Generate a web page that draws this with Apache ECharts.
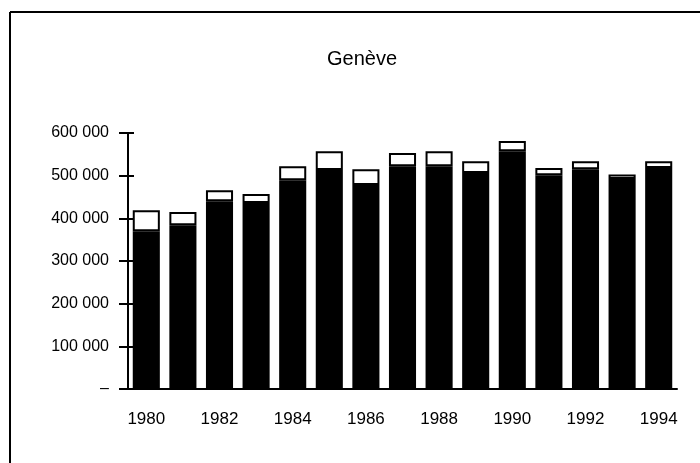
<!DOCTYPE html>
<html>
<head>
<meta charset="utf-8">
<script src="https://cdn.jsdelivr.net/npm/echarts@6/dist/echarts.min.js"></script>
<style>
  html, body { margin: 0; padding: 0; background: #fff; }
  #chart { width: 700px; height: 463px; }
</style>
</head>
<body>
<div id="chart"></div>
<script>
// données
const years = ['1980', '1981', '1982', '1983', '1984', '1985', '1986', '1987',
  '1988', '1989', '1990', '1991', '1992', '1993', '1994']
// partie noire (bas de la barre)
const baseValues = [370000, 384000, 440000, 436000, 489000, 513000, 478000, 522000,
  522000, 506000, 557000, 501000, 515000, 492000, 518000]
// total de la barre (haut du cadre blanc)
const totalValues = [419000, 415000, 466000, 457000, 522000, 557000, 515000, 553000,
  557000, 534000, 581000, 518000, 534000, 503000, 534000]
const topValues = totalValues.map((t, i) => t - baseValues[i])
const yTicks = [0, 100000, 200000, 300000, 400000, 500000, 600000]

const font = 'Liberation Sans, Arial, sans-serif'
const chart = echarts.init(document.getElementById('chart'))

const fmt = v => (v === 0 ? '–' : String(v).replace(/\B(?=(\d{3})+(?!\d))/g, ' '))

const option = {
  animation: false,
  backgroundColor: '#fff',
  title: {
    text: 'Genève',
    left: 322,
    top: 44,
    textStyle: { fontFamily: font, fontSize: 20, fontWeight: 'normal', color: '#000' }
  },
  grid: { left: 128, right: 23, top: 133, bottom: 74 },
  xAxis: [
    {
      type: 'category',
      data: years,
      axisLine: { lineStyle: { color: '#000', width: 2 } },
      axisTick: { interval: 0, length: 7, lineStyle: { color: '#000', width: 2 } },
      axisLabel: { interval: 1, margin: 22, fontFamily: font, fontSize: 17, color: '#000' }
    },
    {
      type: 'category',
      data: years,
      position: 'bottom',
      axisLine: { show: false },
      axisTick: { inside: true, interval: 0, length: 5, lineStyle: { color: '#000', width: 2 } },
      axisLabel: { show: false }
    }
  ],
  yAxis: [
    {
      type: 'value',
      min: yTicks[0],
      max: yTicks[yTicks.length - 1],
      interval: 100000,
      splitLine: { show: false },
      axisLine: { show: true, lineStyle: { color: '#000', width: 2 } },
      axisTick: { show: true, length: 9, lineStyle: { color: '#000', width: 2 } },
      axisLabel: { margin: 19, fontFamily: font, fontSize: 16, color: '#000', formatter: fmt }
    },
    {
      type: 'value',
      position: 'left',
      min: yTicks[0],
      max: yTicks[yTicks.length - 1],
      interval: 100000,
      splitLine: { show: false },
      axisLine: { show: false },
      axisTick: { show: true, inside: true, length: 6, lineStyle: { color: '#000', width: 2 } },
      axisLabel: { show: false }
    }
  ],
  series: [
    {
      type: 'bar',
      stack: 'g',
      data: baseValues,
      barCategoryGap: '26%',
      itemStyle: { color: '#000' }
    },
    {
      type: 'bar',
      stack: 'g',
      data: topValues,
      itemStyle: { color: '#fff', borderColor: '#000', borderWidth: 2 }
    }
  ],
  graphic: [
    { type: 'line', shape: { x1: 10, y1: 12, x2: 700, y2: 12 }, style: { stroke: '#000', lineWidth: 2 } },
    { type: 'line', shape: { x1: 10, y1: 12, x2: 10, y2: 463 }, style: { stroke: '#000', lineWidth: 2 } }
  ]
}

chart.setOption(option)
</script>
</body>
</html>
